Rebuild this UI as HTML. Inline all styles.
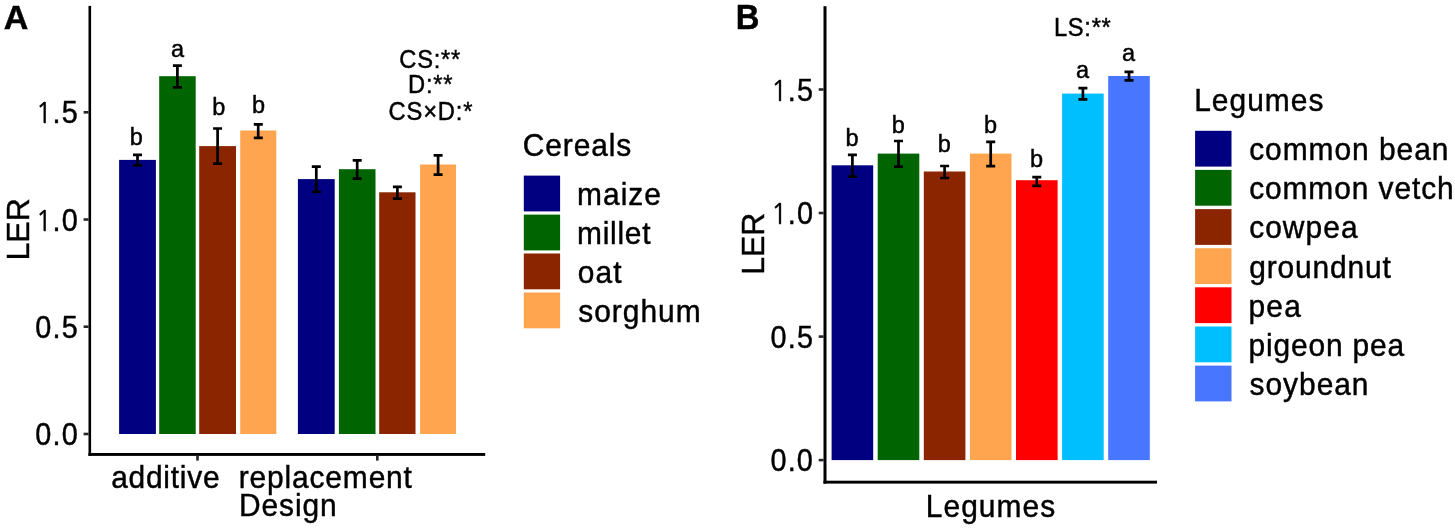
<!DOCTYPE html>
<html><head><meta charset="utf-8"><title>LER</title>
<style>
html,body{margin:0;padding:0;background:#fff;width:1455px;height:530px;overflow:hidden}
svg{display:block}
text{font-family:"Liberation Sans",Arial,Helvetica,sans-serif;fill:#000;stroke:#000;stroke-width:0.45px}
</style></head><body>
<svg width="1455" height="530" viewBox="0 0 1455 530">
<rect width="1455" height="530" fill="#fff"/>
<text x="3.85" y="28.55" font-size="34" font-weight="bold" fill="#000">A</text>
<rect x="88.5" y="5.9" width="2.6" height="450.0" fill="#000"/>
<rect x="88.5" y="453.0" width="396.7" height="2.9" fill="#000"/>
<rect x="83.6" y="432.7" width="5.0" height="2.6" fill="#262626"/>
<text transform="translate(35.28,445.00) scale(0.93,1)" font-size="31" letter-spacing="1.25">0.0</text>
<rect x="83.6" y="325.4" width="5.0" height="2.6" fill="#262626"/>
<text transform="translate(35.35,337.75) scale(0.93,1)" font-size="31" letter-spacing="1.25">0.5</text>
<rect x="83.6" y="218.2" width="5.0" height="2.6" fill="#262626"/>
<text transform="translate(52.52,230.50) scale(0.93,1)" font-size="31" letter-spacing="1.25"><tspan x="-18.00" style="font-family:NanumGothic,'Liberation Sans',sans-serif" font-size="29">1</tspan><tspan x="0">.0</tspan></text>
<rect x="83.6" y="111.0" width="5.0" height="2.6" fill="#262626"/>
<text transform="translate(52.59,123.25) scale(0.93,1)" font-size="31" letter-spacing="1.25"><tspan x="-18.08" style="font-family:NanumGothic,'Liberation Sans',sans-serif" font-size="29">1</tspan><tspan x="0">.5</tspan></text>
<rect x="196.2" y="455.4" width="2.6" height="5.2" fill="#262626"/>
<rect x="376.0" y="455.4" width="2.6" height="5.2" fill="#262626"/>
<rect x="119.1" y="159.9" width="36.8" height="274.1" fill="#000080"/>
<rect x="159.2" y="76.2" width="36.5" height="357.8" fill="#006400"/>
<rect x="199.2" y="146.1" width="36.8" height="287.9" fill="#8B2500"/>
<rect x="240.2" y="130.5" width="36.1" height="303.5" fill="#FFA54F"/>
<rect x="297.9" y="179.1" width="36.8" height="254.9" fill="#000080"/>
<rect x="338.9" y="169.2" width="36.6" height="264.8" fill="#006400"/>
<rect x="379.2" y="192.3" width="36.3" height="241.7" fill="#8B2500"/>
<rect x="420.1" y="164.5" width="35.9" height="269.5" fill="#FFA54F"/>
<path d="M133.0 154.8H142.0M137.5 154.8V165.4M133.0 165.4H142.0" stroke="#000" stroke-width="2.7" fill="none"/>
<path d="M172.9 65.6H181.9M177.4 65.6V87.4M172.9 87.4H181.9" stroke="#000" stroke-width="2.7" fill="none"/>
<path d="M213.1 128.5H222.1M217.6 128.5V163.7M213.1 163.7H222.1" stroke="#000" stroke-width="2.7" fill="none"/>
<path d="M253.8 124.4H262.8M258.2 124.4V137.8M253.8 137.8H262.8" stroke="#000" stroke-width="2.7" fill="none"/>
<path d="M311.8 166.6H320.8M316.3 166.6V191.9M311.8 191.9H320.8" stroke="#000" stroke-width="2.7" fill="none"/>
<path d="M352.7 160.3H361.7M357.2 160.3V178.6M352.7 178.6H361.7" stroke="#000" stroke-width="2.7" fill="none"/>
<path d="M392.9 186.8H401.9M397.4 186.8V198.6M392.9 198.6H401.9" stroke="#000" stroke-width="2.7" fill="none"/>
<path d="M433.6 155.3H442.6M438.1 155.3V174.6M433.6 174.6H442.6" stroke="#000" stroke-width="2.7" fill="none"/>
<text x="129.78" y="144.80" font-size="23.5">b</text>
<text x="170.98" y="56.80" font-size="23.5">a</text>
<text x="212.19" y="114.70" font-size="23.5">b</text>
<text x="251.99" y="113.30" font-size="23.5">b</text>
<text transform="translate(399.31,67.60) scale(0.95,1.0)" font-size="25" letter-spacing="0.78">CS:**</text>
<text transform="translate(408.04,92.60) scale(0.95,1.0)" font-size="25" letter-spacing="0.74">D:**</text>
<text transform="translate(388.51,120.10) scale(0.95,1.0)" font-size="25" letter-spacing="0.87">CS×D:*</text>
<text transform="translate(111.13,487.90) scale(0.95,1.02)" font-size="31.5" letter-spacing="0.80">additive</text>
<text transform="translate(238.78,488.30) scale(0.95,1.02)" font-size="31.5" letter-spacing="0.90">replacement</text>
<text transform="translate(238.93,516.10) scale(0.95,1.02)" font-size="31.5" letter-spacing="0.98">Design</text>
<text transform="translate(28.60,260.44) rotate(-90)" x="0" y="0" font-size="32">LER</text>
<text transform="translate(522.80,156.00) scale(0.95,1.02)" font-size="31.5" letter-spacing="0.93">Cereals</text>
<rect x="523.8" y="175.6" width="36.3" height="35.8" fill="#000080"/>
<text transform="translate(577.08,205.40) scale(0.95,1.02)" font-size="31.5" letter-spacing="1.06">maize</text>
<rect x="523.8" y="214.6" width="36.3" height="35.8" fill="#006400"/>
<text transform="translate(577.08,244.37) scale(0.95,1.02)" font-size="31.5" letter-spacing="0.75">millet</text>
<rect x="523.8" y="253.5" width="36.3" height="35.8" fill="#8B2500"/>
<text transform="translate(577.83,283.34) scale(0.95,1.02)" font-size="31.5" letter-spacing="1.11">oat</text>
<rect x="523.8" y="292.5" width="36.3" height="35.8" fill="#FFA54F"/>
<text transform="translate(578.28,322.31) scale(0.95,1.02)" font-size="31.5" letter-spacing="1.05">sorghum</text>
<text transform="translate(735.79,29.0) scale(0.965,1.03)" font-size="34" font-weight="bold">B</text>
<rect x="823.5" y="6.2" width="3.0" height="477.4" fill="#000"/>
<rect x="823.5" y="480.7" width="333.5" height="2.9" fill="#000"/>
<rect x="818.7" y="458.8" width="4.9" height="2.6" fill="#262626"/>
<text transform="translate(770.48,471.10) scale(0.93,1)" font-size="31" letter-spacing="1.25">0.0</text>
<rect x="818.7" y="335.3" width="4.9" height="2.6" fill="#262626"/>
<text transform="translate(770.55,347.57) scale(0.93,1)" font-size="31" letter-spacing="1.25">0.5</text>
<rect x="818.7" y="211.7" width="4.9" height="2.6" fill="#262626"/>
<text transform="translate(787.72,224.03) scale(0.93,1)" font-size="31" letter-spacing="1.25"><tspan x="-18.00" style="font-family:NanumGothic,'Liberation Sans',sans-serif" font-size="29">1</tspan><tspan x="0">.0</tspan></text>
<rect x="818.7" y="88.2" width="4.9" height="2.6" fill="#262626"/>
<text transform="translate(787.79,100.50) scale(0.93,1)" font-size="31" letter-spacing="1.25"><tspan x="-18.08" style="font-family:NanumGothic,'Liberation Sans',sans-serif" font-size="29">1</tspan><tspan x="0">.5</tspan></text>
<rect x="831.6" y="165.3" width="41.6" height="294.8" fill="#000080"/>
<rect x="877.7" y="153.6" width="41.6" height="306.5" fill="#006400"/>
<rect x="923.8" y="171.5" width="41.6" height="288.6" fill="#8B2500"/>
<rect x="969.9" y="153.6" width="41.6" height="306.5" fill="#FFA54F"/>
<rect x="1016.0" y="180.2" width="41.6" height="279.9" fill="#FF0000"/>
<rect x="1062.1" y="93.6" width="41.6" height="366.5" fill="#00BFFF"/>
<rect x="1108.2" y="76.0" width="41.6" height="384.1" fill="#4876FF"/>
<path d="M847.9 154.8H856.9M852.4 154.8V176.7M847.9 176.7H856.9" stroke="#000" stroke-width="2.7" fill="none"/>
<text x="845.55" y="145.60" font-size="23.5">b</text>
<path d="M894.0 141.0H903.0M898.5 141.0V166.7M894.0 166.7H903.0" stroke="#000" stroke-width="2.7" fill="none"/>
<text x="891.66" y="132.80" font-size="23.5">b</text>
<path d="M940.1 166.0H949.1M944.6 166.0V178.0M940.1 178.0H949.1" stroke="#000" stroke-width="2.7" fill="none"/>
<text x="937.77" y="152.00" font-size="23.5">b</text>
<path d="M986.2 141.8H995.2M990.7 141.8V166.2M986.2 166.2H995.2" stroke="#000" stroke-width="2.7" fill="none"/>
<text x="983.88" y="132.80" font-size="23.5">b</text>
<path d="M1032.3 177.1H1041.3M1036.8 177.1V185.9M1032.3 185.9H1041.3" stroke="#000" stroke-width="2.7" fill="none"/>
<text x="1029.99" y="167.20" font-size="23.5">b</text>
<path d="M1078.4 88.1H1087.4M1082.9 88.1V99.3M1078.4 99.3H1087.4" stroke="#000" stroke-width="2.7" fill="none"/>
<text x="1075.90" y="78.20" font-size="23.5">a</text>
<path d="M1124.5 71.8H1133.5M1129.0 71.8V80.3M1124.5 80.3H1133.5" stroke="#000" stroke-width="2.7" fill="none"/>
<text x="1122.01" y="61.20" font-size="23.5">a</text>
<text transform="translate(1053.94,36.30) scale(0.95,1.0)" font-size="25" letter-spacing="0.72">LS:**</text>
<text transform="translate(925.83,516.60) scale(0.95,1.02)" font-size="31.5" letter-spacing="1.10">Legumes</text>
<text transform="translate(763.60,274.84) rotate(-90)" x="0" y="0" font-size="32">LER</text>
<text transform="translate(1194.13,110.50) scale(0.95,1.02)" font-size="31.5" letter-spacing="1.10">Legumes</text>
<rect x="1195.1" y="130.8" width="36.4" height="35.8" fill="#000080"/>
<text transform="translate(1249.13,160.20) scale(0.95,1.02)" font-size="31.5" letter-spacing="1.03">common bean</text>
<rect x="1195.1" y="169.9" width="36.4" height="35.8" fill="#006400"/>
<text transform="translate(1249.13,199.33) scale(0.95,1.02)" font-size="31.5" letter-spacing="0.96">common vetch</text>
<rect x="1195.1" y="209.1" width="36.4" height="35.8" fill="#8B2500"/>
<text transform="translate(1249.13,238.46) scale(0.95,1.02)" font-size="31.5" letter-spacing="1.13">cowpea</text>
<rect x="1195.1" y="248.2" width="36.4" height="35.8" fill="#FFA54F"/>
<text transform="translate(1249.13,277.59) scale(0.95,1.02)" font-size="31.5" letter-spacing="0.92">groundnut</text>
<rect x="1195.1" y="287.3" width="36.4" height="35.8" fill="#FF0000"/>
<text transform="translate(1248.45,316.72) scale(0.95,1.02)" font-size="31.5" letter-spacing="1.33">pea</text>
<rect x="1195.1" y="326.5" width="36.4" height="35.8" fill="#00BFFF"/>
<text transform="translate(1248.45,355.85) scale(0.95,1.02)" font-size="31.5" letter-spacing="0.90">pigeon pea</text>
<rect x="1195.1" y="365.6" width="36.4" height="35.8" fill="#4876FF"/>
<text transform="translate(1249.58,394.98) scale(0.95,1.02)" font-size="31.5" letter-spacing="1.02">soybean</text>
</svg>
</body></html>
